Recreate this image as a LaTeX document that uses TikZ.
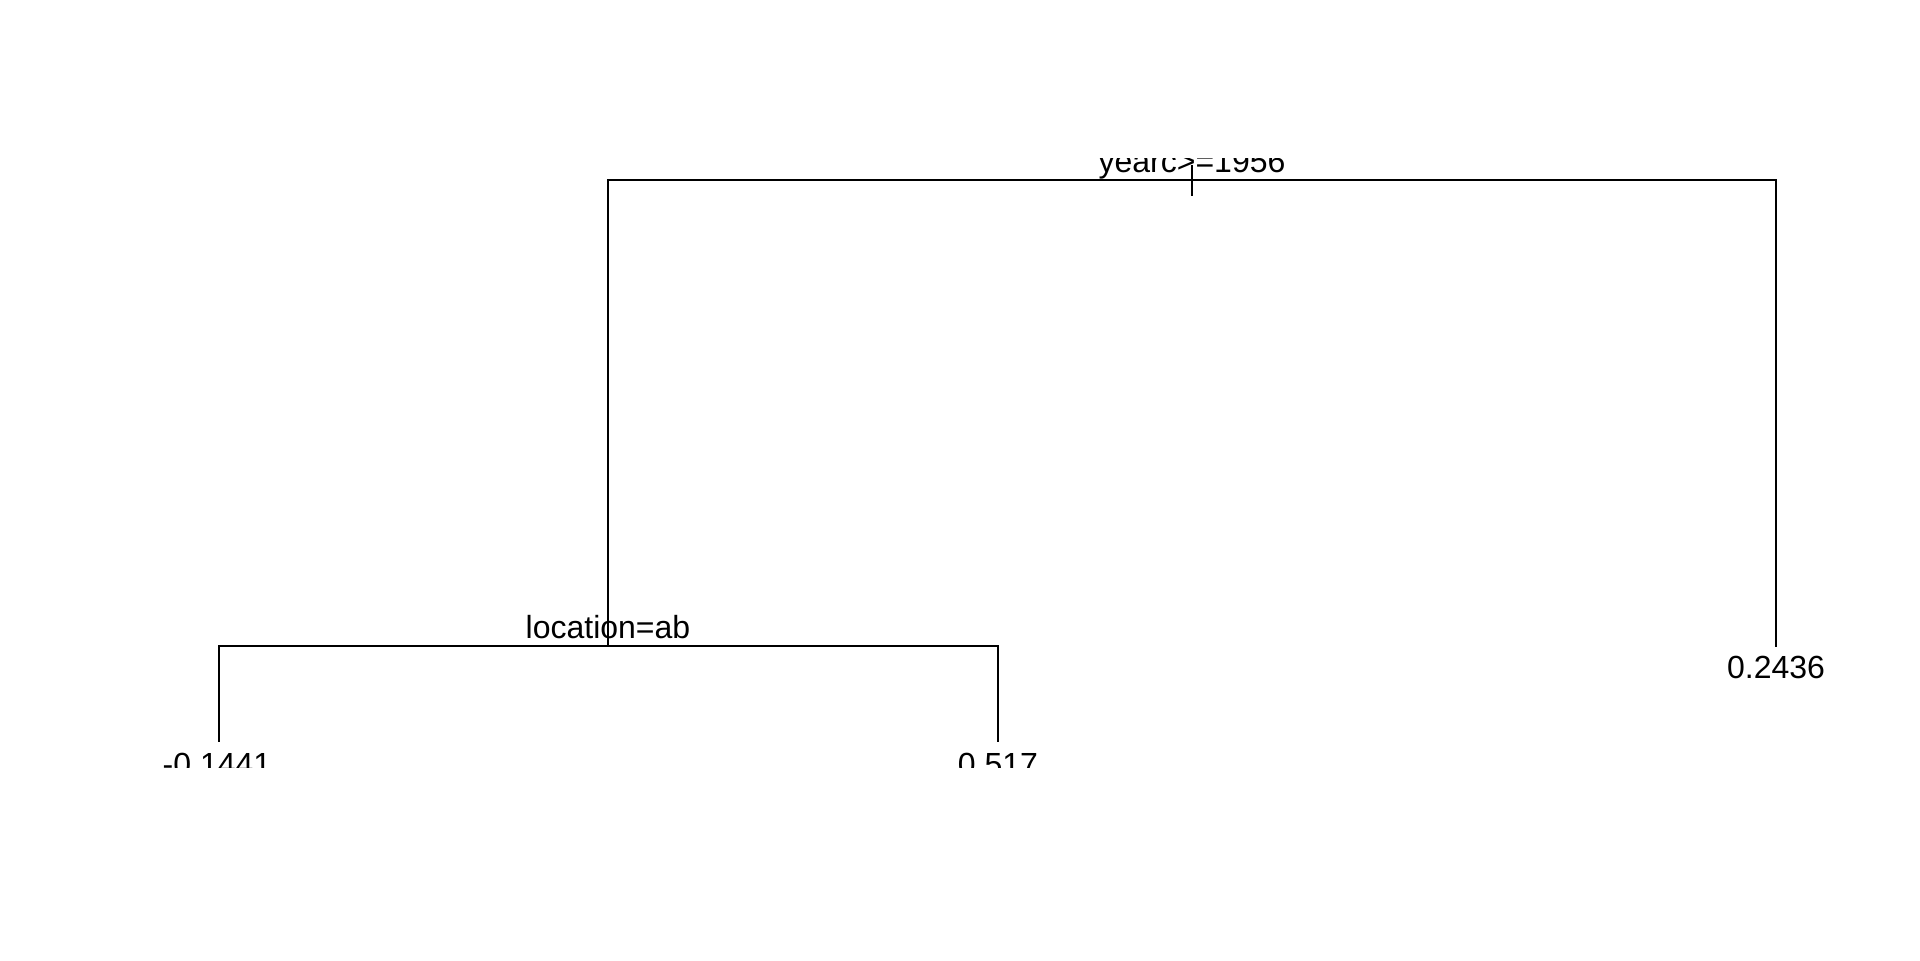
\documentclass[tikz,border=0pt]{standalone}
\usepackage{fontspec}
\setmainfont{Liberation Sans}
\begin{document}
\begin{tikzpicture}[x=0.5pt,y=-0.5pt,
  edge/.style={line width=1pt,line cap=rect},
  lbl/.style={inner sep=0pt,anchor=base,font=\fontsize{16}{19}\selectfont}]
\useasboundingbox[fill=white] (0,0) rectangle (1920,960);
% coordinates of the tree
\coordinate (root) at (1192,180);
\coordinate (rtop) at (1192,166);
\coordinate (rbot) at (1192,195);
\coordinate (L) at (608,180);
\coordinate (R) at (1776,180);
\coordinate (Lend) at (608,646);
\coordinate (Rend) at (1776,646);
\coordinate (LL) at (219,646);
\coordinate (LR) at (998,646);
\coordinate (LLend) at (219,741);
\coordinate (LRend) at (998,741);
% edges
\draw[edge] (L) -- (R);
\draw[edge] (rtop) -- (rbot);
\draw[edge] (L) -- (Lend);
\draw[edge] (R) -- (Rend);
\draw[edge] (LL) -- (LR);
\draw[edge] (LL) -- (LLend);
\draw[edge] (LR) -- (LRend);
% labels (clipped to the plotting region)
\begin{scope}
\clip (0,158) rectangle (1920,767);
\node[lbl] (t1) at (1192,172) {yearc>=1956};
\node[lbl] (t2) at (608,638) {location=ab};
\node[lbl] (t3) at (1776,678) {0.2436};
\node[lbl] (t4) at (217,775) {-0.1441};
\node[lbl] (t5) at (998,775) {0.517};
\end{scope}
\end{tikzpicture}
\end{document}
